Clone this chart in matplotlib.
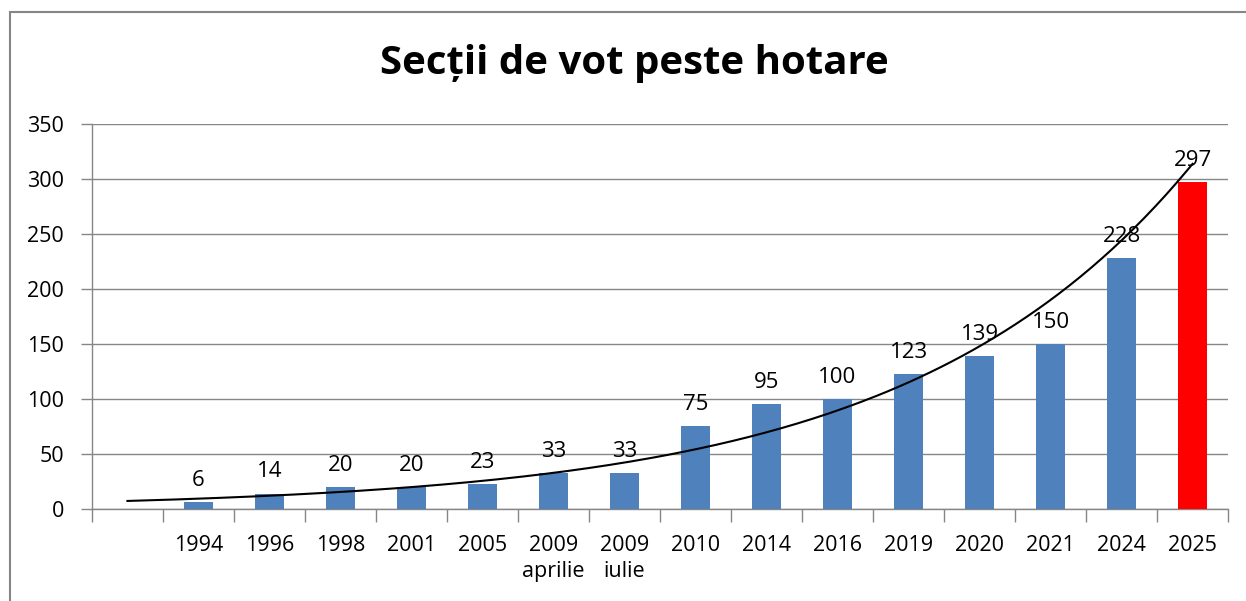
import matplotlib.pyplot as plt
import numpy as np
from matplotlib.patches import Rectangle

plt.rcParams["font.family"] = ["Open Sans", "DejaVu Sans"]

# Data
years = ["1994", "1996", "1998", "2001", "2005", "2009\naprilie", "2009\niulie",
         "2010", "2014", "2016", "2019", "2020", "2021", "2024", "2025"]
sections = [6, 14, 20, 20, 23, 33, 33, 75, 95, 100, 123, 139, 150, 228, 297]
bar_colors = ["#4F81BD"] * 14 + ["#FF0000"]

fig = plt.figure(figsize=(12.46, 6.01), dpi=100)
ax = fig.add_axes([0.0738, 0.1531, 0.9118, 0.6406])

# outer chart frame (cut off on the right and bottom)
fig.patches.append(Rectangle((10 / 1246, -0.1), 1.2, 1 - 12 / 601 + 0.1,
                             transform=fig.transFigure, fill=False,
                             edgecolor="#868686", linewidth=1.5))

x = np.arange(1, len(sections) + 1)
ax.bar(x, sections, width=0.41, color=bar_colors, zorder=3)

for xi, v in zip(x, sections):
    ax.annotate(str(v), (xi, v), xytext=(0, 8), textcoords="offset points",
                ha="center", va="bottom", fontsize=16, zorder=5)

# exponential trendline, extended one period back
b, a = np.polyfit(x, np.log(sections), 1)
xt = np.linspace(0, len(sections), 200)
ax.plot(xt, np.exp(a + b * xt), color="black", linewidth=1.5, zorder=4)

ax.set_xlim(-0.5, len(sections) + 0.5)
ax.set_ylim(0, 350)
ax.set_yticks(np.arange(0, 351, 50))
ax.set_xticks(x)
ax.set_xticklabels(years, fontsize=15.5, linespacing=1.3)
ax.set_xticks(np.arange(-0.5, len(sections) + 0.6, 1), minor=True)
ax.tick_params(axis="x", which="major", length=0, pad=19)
ax.tick_params(axis="x", which="minor", length=9, color="#868686", width=1)
ax.tick_params(axis="y", length=8, color="#868686", width=1, pad=12, labelsize=15.5)

ax.grid(axis="y", color="#868686", linewidth=1, zorder=0)
for s in ["top", "right"]:
    ax.spines[s].set_visible(False)
for s in ["left", "bottom"]:
    ax.spines[s].set_color("#868686")
    ax.spines[s].set_linewidth(1)

fig.text(0.509, 0.895, "Secții de vot peste hotare", ha="center", va="center",
         fontsize=29, fontweight="bold")

fig.savefig("out.png", dpi=100)
